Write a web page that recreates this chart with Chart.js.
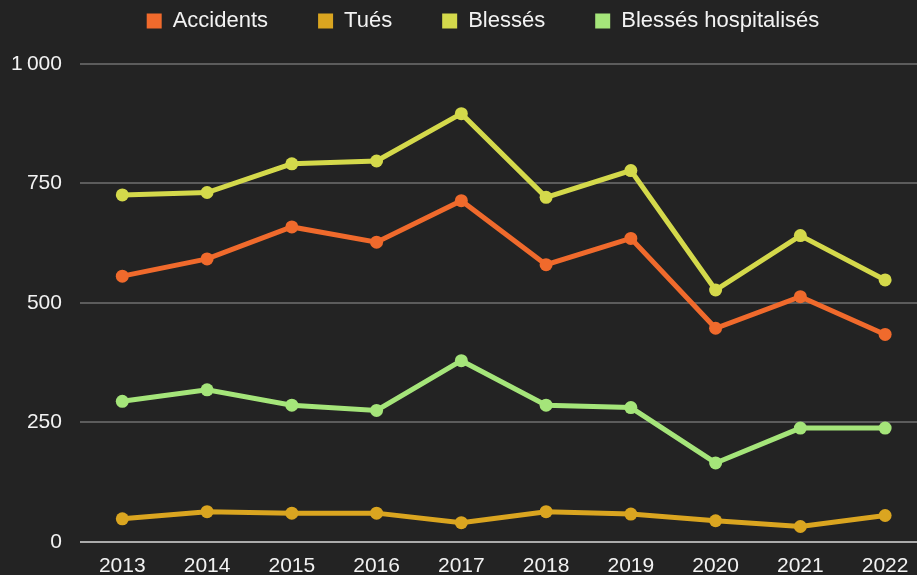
<!DOCTYPE html>
<html>
<head>
<meta charset="utf-8">
<script src="https://cdn.jsdelivr.net/npm/chart.js@4"></script>
<style>
  html, body { margin: 0; padding: 0; background: #232323; overflow: hidden; }
  #wrap { position: relative; width: 963px; height: 593px; }
</style>
</head>
<body>
<div id="wrap"><canvas id="c"></canvas></div>
<script>
const years = ['2013','2014','2015','2016','2017','2018','2019','2020','2021','2022'];
const accidents = [556, 592, 659, 627, 714, 580, 635, 447, 513, 434];
const tues = [48, 63, 60, 60, 40, 63, 58, 44, 32, 55];
const blesses = [726, 731, 791, 797, 896, 721, 777, 527, 641, 548];
const hospitalises = [294, 318, 286, 275, 379, 286, 281, 165, 238, 238];
const seriesNames = ['Accidents', 'Tués', 'Blessés', 'Blessés hospitalisés'];
const seriesColors = ['#F06A2C', '#DAA520', '#D4D94B', '#A5E57A'];
const yTicks = [0, 250, 500, 750, 1000];

Chart.defaults.font.family = "'Liberation Sans', Arial, sans-serif";
Chart.defaults.color = '#f2f2f2';

const legendExtra = {
  id: 'legendExtra',
  beforeInit(chart) {
    const lg = chart.legend;
    if (!lg) return;
    const fit = lg.fit;
    lg.fit = function () { fit.call(this); this.height += 22; };
  },
  afterLayout(chart) {
    const lg = chart.legend;
    if (!lg) return;
    const shift = 483 - (lg.left + lg.right) / 2;
    lg.left += shift;
    lg.right += shift;
  }
};

function ds(label, data, color) {
  return {
    label, data,
    borderColor: color,
    backgroundColor: color,
    pointBackgroundColor: color,
    pointBorderColor: color,
    borderWidth: 5,
    pointRadius: 6.5,
    pointBorderWidth: 0,
    tension: 0,
    fill: false
  };
}

new Chart(document.getElementById('c'), {
  type: 'line',
  data: {
    labels: years,
    datasets: [
      ds(seriesNames[0], accidents, seriesColors[0]),
      ds(seriesNames[1], tues, seriesColors[1]),
      ds(seriesNames[2], blesses, seriesColors[2]),
      ds(seriesNames[3], hospitalises, seriesColors[3])
    ]
  },
  options: {
    responsive: true,
    maintainAspectRatio: false,
    animation: false,
    locale: 'fr-FR',
    layout: { padding: { top: -40, left: -7, right: 35.5, bottom: 2 } },
    plugins: {
      legend: {
        position: 'top',
        labels: {
          boxWidth: 15,
          boxHeight: 15,
          padding: 50,
          color: '#f2f2f2',
          font: { size: 22 },
          generateLabels(chart) {
            const items = Chart.defaults.plugins.legend.labels.generateLabels(chart);
            items.forEach(it => { it.lineWidth = 0; });
            return items;
          }
        }
      },
      tooltip: { enabled: false }
    },
    scales: {
      x: {
        offset: true,
        grid: { display: false, drawTicks: false },
        border: { display: false },
        ticks: { padding: 12, color: '#f2f2f2', font: { size: 21 } }
      },
      y: {
        min: 0,
        max: 1000,
        afterBuildTicks(scale) { scale.ticks = yTicks.map(v => ({ value: v })); },
        grid: {
          drawTicks: false,
          lineWidth: 2,
          color: (ctx) => (ctx.tick && ctx.tick.value === 0) ? '#ababab' : '#5c5c5c'
        },
        border: { display: false },
        ticks: {
          padding: 18,
          color: '#f2f2f2',
          font: { size: 21 },
          callback: (v) => v.toLocaleString('fr-FR')
        }
      }
    }
  },
  plugins: [legendExtra]
});
</script>
</body>
</html>
